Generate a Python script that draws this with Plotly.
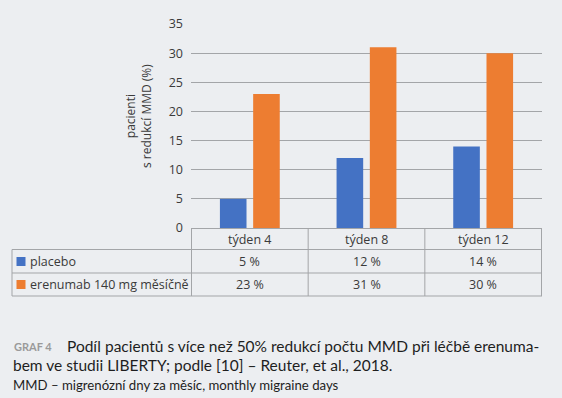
import plotly.graph_objects as go

categories = ["týden 4", "týden 8", "týden 12"]
series_names = ["placebo", "erenumab 140 mg měsíčně"]
placebo = [5, 12, 14]
erenumab = [23, 31, 30]
y_ticks = [0, 5, 10, 15, 20, 25, 30, 35]
y_title = "pacienti<br>s redukcí MMD (%)"
caption_label = "GRAF 4"
caption_line1 = "Podíl pacientů s více než 50% redukcí počtu MMD při léčbě erenuma-"
caption_line2 = "bem ve studii LIBERTY; podle [10] – Reuter, et al., 2018."
caption_line3 = "MMD – migrenózní dny za měsíc, monthly migraine days"

W, H = 562, 398
L, R, T, B = 191, 20, 24, 170
BG = "#eceef1"
BLUE = "#4472c4"
ORANGE = "#ed7d31"
GRID = "#a3a5a8"
TXT = "#3a3a3a"
colors = [BLUE, ORANGE]
series_vals = [placebo, erenumab]


def px(x):
    return (x - L) / (W - L - R)


def py(y):
    return (H - B - y) / (H - T - B)


fig = go.Figure()
for name, vals, col in zip(series_names, series_vals, colors):
    fig.add_trace(go.Bar(x=categories, y=vals, name=name, marker=dict(color=col, line=dict(width=0)),
                         hoverinfo="x+y+name"))

shapes = []
line = dict(color=GRID, width=1)
# horizontal table lines
for yy in [249.5, 273, 296]:
    shapes.append(dict(type="line", xref="paper", yref="paper", x0=px(12), x1=1, y0=py(yy), y1=py(yy), line=line))
# left border of the legend column
shapes.append(dict(type="line", xref="paper", yref="paper", x0=px(12), x1=px(12), y0=py(249.5), y1=py(296), line=line))
# column borders (category boundaries on the x axis)
for xb in [-0.5, 0.5, 1.5, 2.5]:
    shapes.append(dict(type="line", xref="x", yref="paper", x0=xb, x1=xb, y0=py(228), y1=py(296), line=line))

annotations = []
tfont = dict(family="Open Sans, sans-serif", size=12.5, color=TXT)
row_y = [261.5, 284.5]
for i, cat in enumerate(categories):
    annotations.append(dict(x=cat, xref="x", y=py(239), yref="paper", text=cat, showarrow=False,
                            xanchor="center", yanchor="middle", font=tfont))
    for r, vals in enumerate(series_vals):
        annotations.append(dict(x=cat, xref="x", y=py(row_y[r]), yref="paper", text=f"{vals[i]} %",
                                showarrow=False, xanchor="center", yanchor="middle", font=tfont))
for r, (name, col) in enumerate(zip(series_names, colors)):
    cy = row_y[r]
    shapes.append(dict(type="rect", xref="paper", yref="paper", x0=px(16.5), x1=px(25.5),
                       y0=py(cy + 4.5), y1=py(cy - 4.5), fillcolor=col, line=dict(width=0)))
    annotations.append(dict(x=px(28), xref="paper", y=py(cy), yref="paper", text=name, showarrow=False,
                            xanchor="left", yanchor="middle", font=tfont))

# y-axis title
annotations.append(dict(x=px(139), xref="paper", y=py(116), yref="paper", text=y_title, showarrow=False,
                        textangle=-90, xanchor="center", yanchor="middle",
                        font=dict(family="Open Sans, sans-serif", size=12, color=TXT)))

# caption
cfont = dict(family="Lato, sans-serif", size=15.5, color="#1e1e1e")
annotations.append(dict(x=px(12), xref="paper", y=py(346.5), yref="paper", text=f"<b>{caption_label}</b>",
                        showarrow=False, xanchor="left", yanchor="middle",
                        font=dict(family="Lato, sans-serif", size=11, color="#9a9a9a")))
annotations.append(dict(x=px(65), xref="paper", y=py(346), yref="paper", text=caption_line1,
                        showarrow=False, xanchor="left", yanchor="middle", font=cfont))
annotations.append(dict(x=px(11), xref="paper", y=py(365), yref="paper", text=caption_line2,
                        showarrow=False, xanchor="left", yanchor="middle", font=cfont))
annotations.append(dict(x=px(11), xref="paper", y=py(385), yref="paper", text=caption_line3,
                        showarrow=False, xanchor="left", yanchor="middle",
                        font=dict(family="Lato, sans-serif", size=13.2, color="#1e1e1e")))

fig.update_layout(
    width=W, height=H, autosize=False,
    margin=dict(l=L, r=R, t=T, b=B, pad=0),
    paper_bgcolor=BG, plot_bgcolor=BG,
    barmode="group", bargap=0.43, bargroupgap=0.2,
    showlegend=False,
    shapes=shapes, annotations=annotations,
    xaxis=dict(showticklabels=False, showgrid=False, zeroline=False, showline=False, ticks="",
               fixedrange=True),
    yaxis=dict(range=[0, 35], tickvals=y_ticks, showgrid=True, gridcolor=GRID, gridwidth=1,
               zeroline=True, zerolinecolor=GRID, zerolinewidth=1, showline=False, ticks="",
               ticklabelstandoff=7,
               tickfont=dict(family="Open Sans, sans-serif", size=12.5, color=TXT), fixedrange=True),
)
fig.write_html("out.html", config={"displayModeBar": False},
               post_script="document.body.style.margin='0';document.body.style.background='" + BG + "';")
